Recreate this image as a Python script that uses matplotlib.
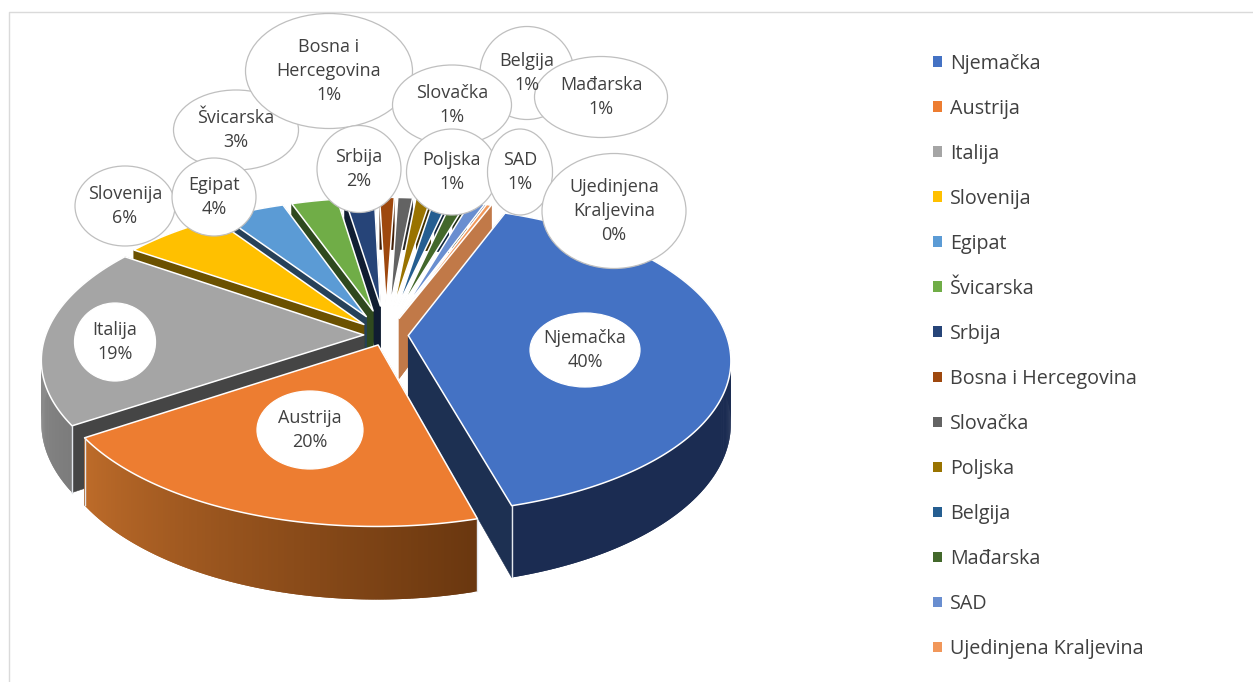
#!/usr/bin/env python

import numpy as np
import matplotlib
matplotlib.use('Agg')
import matplotlib.pyplot as plt
from matplotlib.colors import to_rgb
from matplotlib.patches import Ellipse, Patch, Polygon

plt.rcParams['font.family'] = ['Open Sans', 'DejaVu Sans']

countries = ['Njemačka', 'Austrija', 'Italija', 'Slovenija', 'Egipat', 'Švicarska', 'Srbija',
             'Bosna i Hercegovina', 'Slovačka', 'Poljska', 'Belgija', 'Mađarska', 'SAD',
             'Ujedinjena Kraljevina']
label_names = ['Njemačka', 'Austrija', 'Italija', 'Slovenija', 'Egipat', 'Švicarska', 'Srbija',
               'Bosna i\nHercegovina', 'Slovačka', 'Poljska', 'Belgija', 'Mađarska', 'SAD',
               'Ujedinjena\nKraljevina']
shares = [40, 20, 19, 6, 4, 3, 2, 1, 1, 1, 1, 1, 1, 0.3]
colors = ['#4472C4', '#ED7D31', '#A5A5A5', '#FFC000', '#5B9BD5', '#70AD47', '#264478',
          '#9E480E', '#636363', '#997300', '#255E91', '#43682B', '#698ED0', '#F1975A']

# label bubbles in pixels: x, y, width, height
bubbles = {
    'Njemačka': (585, 350, 110, 74),
    'Austrija': (310, 430, 106, 78),
    'Italija': (115, 342, 81, 78),
    'Slovenija': (125, 206, 100, 80),
    'Švicarska': (236, 130, 125, 80),
    'Egipat': (214, 197, 84, 78),
    'Bosna i Hercegovina': (329, 71, 167, 115),
    'Srbija': (359, 169, 84, 87),
    'Belgija': (527, 73, 94, 93),
    'Mađarska': (601, 97, 133, 81),
    'Slovačka': (452, 105, 119, 80),
    'Poljska': (452, 172, 91, 86),
    'SAD': (520, 172, 65, 86),
    'Ujedinjena Kraljevina': (614, 211, 144, 115),
}
plain_bubbles = ['Njemačka', 'Austrija', 'Italija']

# view of the disc
cx, cy = 386, 335
rx, ry = 318, 150
persp = 0.155
depth = 61
first_angle = 21
rim = 1.07
shade = 0.42
# how far each slice is pulled out of the middle
explode = [0.07, 0.07, 0.07, 0.10, 0.14, 0.17, 0.20, 0.20, 0.20, 0.20, 0.20, 0.20, 0.20, 0.12]
wall_shades = {'Ujedinjena Kraljevina': 0.8}
arc_colors = {'Austrija': ('#BE6C2A', '#6A370F'),
              'Italija': ('#9C9C9C', '#7C7C7C'),
              'Njemačka': ('#1B2C52', '#1B2C52')}
# too thin for the side walls to show behind the white edges
no_walls = ['Bosna i Hercegovina', 'Slovačka', 'Poljska', 'Belgija', 'Mađarska', 'SAD']


def project(x, y, z=0.0):
    s = 1 / (1 + persp * y)
    return cx + rx * x * s, cy - ry * y * s + depth * z * s


def darker(color, f):
    return tuple(c * f for c in to_rgb(color))


def draw_slice(ax, name, color, a0, a1, pull):
    mid = np.radians((a0 + a1) / 2)
    off = (pull * np.sin(mid), pull * np.cos(mid))
    ang = np.radians(np.linspace(a0, a1, max(int(a1 - a0) * 2, 3)))
    xs = off[0] + (rim - pull) * np.sin(ang)
    ys = off[1] + (rim - pull) * np.cos(ang)
    wall = darker(color, wall_shades.get(name, shade))

    # flat side walls
    if name not in no_walls:
        for i in (0, -1):
            p = [project(off[0], off[1]), project(xs[i], ys[i]),
                 project(xs[i], ys[i], 1), project(off[0], off[1], 1)]
            ax.add_patch(Polygon(p, closed=True, fc=wall, ec=wall, lw=0.4))

    # outer curved wall, in short overlapping strips so it can carry a gradient
    right, left = arc_colors.get(name, (wall, wall))
    left, right = np.array(to_rgb(left)), np.array(to_rgb(right))
    n = len(xs)
    for i in range(n - 1):
        t = i / (n - 1)
        c = left * (1 - t) + right * t
        j = min(i + 2, n - 1)
        p = [project(xs[i], ys[i]), project(xs[j], ys[j]),
             project(xs[j], ys[j], 1), project(xs[i], ys[i], 1)]
        ax.add_patch(Polygon(p, closed=True, fc=c, ec='none'))

    # light line down the front corner
    for i in (0, -1):
        if ys[i] < -0.3:
            a = project(xs[i], ys[i])
            b = project(xs[i], ys[i], 1)
            ax.plot([a[0], b[0]], [a[1], b[1]], color='#E4E8EE', lw=1)

    top = [project(off[0], off[1])] + [project(x, y) for x, y in zip(xs, ys)]
    ax.add_patch(Polygon(top, closed=True, fc=color, ec='white', lw=1.1, joinstyle='round'))


def main():
    fig = plt.figure(figsize=(12.53, 6.82), dpi=100)
    ax = fig.add_axes([0, 0, 1, 1])
    ax.set_xlim(0, 1253)
    ax.set_ylim(682, 0)
    ax.axis('off')

    # picture frame
    ax.plot([9, 9, 1253], [682, 12, 12], color='#DADADA', lw=1)

    total = sum(shares)
    sweep = 360 * np.array(shares) / total
    starts = first_angle + np.concatenate([[0], np.cumsum(sweep)[:-1]])

    mids = np.radians(starts + sweep / 2)
    for k in np.argsort(-np.cos(mids)):
        draw_slice(ax, countries[k], colors[k], starts[k], starts[k] + sweep[k], explode[k])

    for name, (x, y, w, h) in bubbles.items():
        k = countries.index(name)
        edge = 'white' if name in plain_bubbles else '#BFBFBF'
        ax.add_patch(Ellipse((x, y), w, h, fc='white', ec=edge, lw=0.9, zorder=5))
        pct = round(shares[k] / total * 100)
        ax.text(x, y, f"{label_names[k]}\n{pct}%", ha='center', va='center', fontsize=13,
                color='#404040', linespacing=1.45, zorder=6)

    handles = [Patch(fc=c, ec='none', label=n) for c, n in zip(colors, countries)]
    ax.legend(handles=handles, loc='upper left', bbox_to_anchor=(933, 53.5),
              bbox_transform=ax.transData, frameon=False, fontsize=14.2, labelcolor='#404040',
              handlelength=0.45, handleheight=0.45, handletextpad=0.4, labelspacing=1.27,
              borderpad=0, borderaxespad=0)

    plt.savefig('out.png', dpi=100)


if __name__ == '__main__':
    main()
